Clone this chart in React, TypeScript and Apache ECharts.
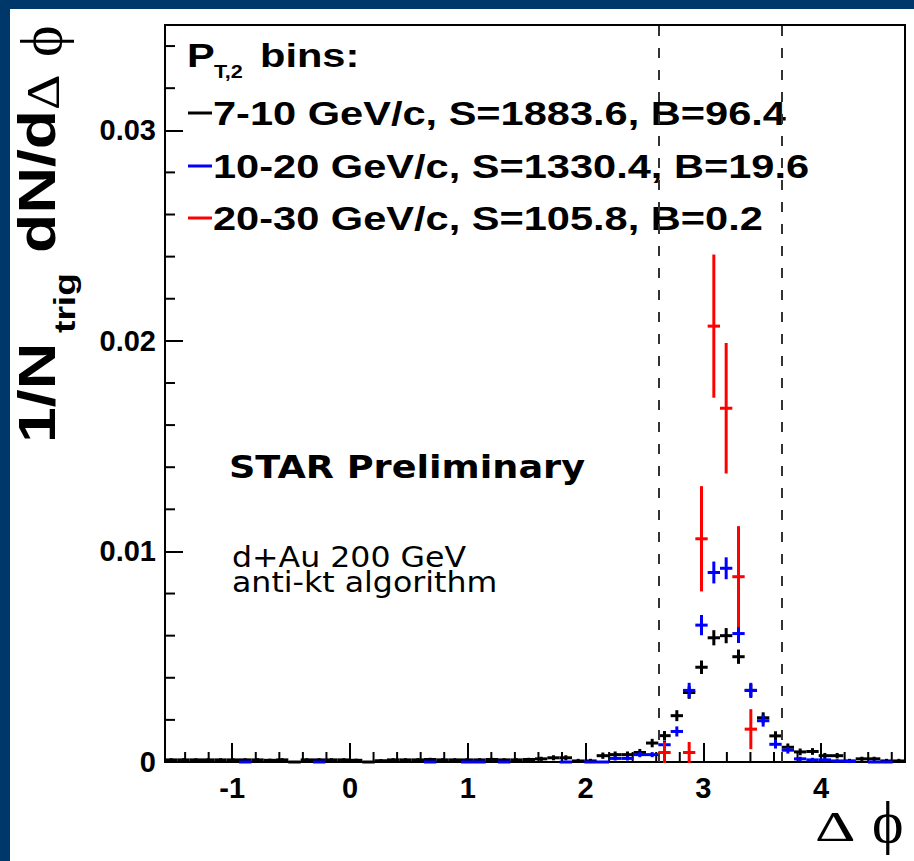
import React, { useEffect, useRef } from "react";
import * as echarts from "echarts";

// Binning of the histograms: 60 bins over [-pi/2, 3pi/2]
const N_BINS = 60;
const BIN_LOW = -Math.PI / 2;
const BIN_WIDTH = Math.PI / 30;
const X_MIN = -Math.PI / 2;
const X_MAX = (3 * Math.PI) / 2;
const Y_MAX = 0.035;

// Away-side window lines at pi -/+ pi/6
const WINDOW_LINES = [Math.PI - Math.PI / 6, Math.PI + Math.PI / 6];

// Minor tick positions
const X_MINOR_TICKS = [
  -1.4, -1.2, -0.8, -0.6, -0.4, -0.2, 0.2, 0.4, 0.6, 0.8, 1.2, 1.4, 1.6, 1.8,
  2.2, 2.4, 2.6, 2.8, 3.2, 3.4, 3.6, 3.8, 4.2, 4.4, 4.6,
];
const Y_MINOR_TICKS = [
  0.002, 0.004, 0.006, 0.008, 0.012, 0.014, 0.016, 0.018, 0.022, 0.024, 0.026,
  0.028, 0.032, 0.034,
];

// 7-10 GeV/c (black)
const BLACK_VALUES: (number | null)[] = [
  0.0001, 0.0001, 0.0001, 0.0001, 0.0001, 0.0001, 0.0001, 0.0001, 0.00008, 0.0001,
  0, 0.0001, 0.0001, 0.0001, 0.0001, 0.00008, 0, 0.00006, 0.0001, 0.0001,
  0.0001, 0.00012, 0.0001, 0.0001, 0.0001, 0.0001, 0.00012, 0.0001, 0.0001, 0.00012,
  0.00015, 0.0002, 0.0002, 0.00005, 0.00005, 0.0003, 0.00035, 0.00035, 0.00045, 0.0009,
  0.00125, 0.0022, 0.0033, 0.0045, 0.0059, 0.006, 0.005, 0.0034, 0.0021, 0.00124,
  0.0007, 0.00048, 0.0005, 0.0003, 0.0003, 0.00005, 0.00015, 0.00015, 0.00005, 0.00005,
];
const BLACK_ERRORS: number[] = [
  0.00008, 0.00008, 0.00008, 0.00008, 0.00008, 0.00008, 0.00008, 0.00008, 0.00008, 0.00008,
  0, 0.00008, 0.00008, 0.00008, 0.00008, 0.00008, 0, 0.00008, 0.00008, 0.00008,
  0.00008, 0.00008, 0.00008, 0.00008, 0.00008, 0.00008, 0.00008, 0.00008, 0.00008, 0.00008,
  0.0001, 0.00012, 0.00012, 0.0001, 0.0001, 0.00015, 0.00015, 0.00015, 0.00017, 0.0002,
  0.00022, 0.00026, 0.0003, 0.00032, 0.00036, 0.00036, 0.00034, 0.0003, 0.00026, 0.00022,
  0.00018, 0.00016, 0.00016, 0.00013, 0.00013, 0.0001, 0.0001, 0.0001, 0.0001, 0.0001,
];

// 10-20 GeV/c (blue)
const BLUE_VALUES: (number | null)[] = [
  null, null, null, null, null, null, 0, null, null, null,
  null, null, 0, null, null, null, null, null, null, null,
  null, 0, null, null, 0, 0, null, 0, null, null,
  null, null, 0, null, 0, 0, 0.00017, 0.00017, 0.00035, 0.00035,
  0.00082, 0.00145, 0.0034, 0.0065, 0.009, 0.0092, 0.0061, 0.0034, 0.00196, 0.00084,
  0.00056, 0.00015, 0.0001, 0.0001, 0.00005, 0.00003, null, 0, 0, null,
];
const BLUE_ERRORS: number[] = [
  0, 0, 0, 0, 0, 0, 0, 0, 0, 0,
  0, 0, 0, 0, 0, 0, 0, 0, 0, 0,
  0, 0, 0, 0, 0, 0, 0, 0, 0, 0,
  0, 0, 0, 0, 0, 0, 0.0001, 0.0001, 0.00012, 0.00012,
  0.0002, 0.00024, 0.00036, 0.00048, 0.00052, 0.00052, 0.00045, 0.00036, 0.00028, 0.0002,
  0.00016, 0.0001, 0.0001, 0.0001, 0.00008, 0.00005, 0, 0, 0, 0,
];

// 20-30 GeV/c (red)
const RED_VALUES: (number | null)[] = [
  null, null, null, null, null, null, null, null, null, null,
  null, null, null, null, null, null, null, null, null, null,
  null, null, null, null, null, null, null, null, null, null,
  null, null, null, null, null, null, null, null, null, null,
  0.00045, null, 0.00045, 0.0106, 0.0207, 0.0168, 0.0088, 0.00156, null, null,
  null, null, null, null, null, null, null, null, null, null,
];
const RED_ERRORS: number[] = [
  0, 0, 0, 0, 0, 0, 0, 0, 0, 0,
  0, 0, 0, 0, 0, 0, 0, 0, 0, 0,
  0, 0, 0, 0, 0, 0, 0, 0, 0, 0,
  0, 0, 0, 0, 0, 0, 0, 0, 0, 0,
  0.0005, 0, 0.0005, 0.0025, 0.0034, 0.0031, 0.0024, 0.00095, 0, 0,
  0, 0, 0, 0, 0, 0, 0, 0, 0, 0,
];

const SERIES_NAMES = ["7-10 GeV/c", "10-20 GeV/c", "20-30 GeV/c"];
const SERIES_COLORS = ["#000000", "#0000ff", "#ff0000"];
const LEGEND_LABELS = [
  "7-10 GeV/c, S=1883.6, B=96.4",
  "10-20 GeV/c, S=1330.4, B=19.6",
  "20-30 GeV/c, S=105.8, B=0.2",
];

const SANS = '"Liberation Sans", Arial, sans-serif';
const DEJAVU = '"DejaVu Sans", sans-serif';
const SERIF = '"Liberation Serif", "Times New Roman", serif';

function toData(values: (number | null)[], errors: number[]) {
  const out: number[][] = [];
  for (let i = 0; i < N_BINS; i++) {
    const v = values[i];
    if (v == null) continue;
    out.push([BIN_LOW + (i + 0.5) * BIN_WIDTH, v, errors[i]]);
  }
  return out;
}

// text helper: place text so that its alphabetic baseline is at (x, baseline)
function txt(
  text: string,
  x: number,
  baseline: number,
  size: number,
  family: string,
  weight: string,
  scaleX: number,
  fill = "#000"
) {
  return {
    type: "text",
    x,
    y: baseline - 0.346 * size,
    scaleX,
    silent: true,
    style: {
      text,
      x: 0,
      y: 0,
      fill,
      font: `${weight} ${size}px ${family}`,
      align: "left",
      verticalAlign: "middle",
      textAlign: "left",
      textVerticalAlign: "middle",
    },
  };
}

// rotated (bottom-to-top) text, baseline on screen column bx, starting at screen row sy
function vtxt(
  text: string,
  bx: number,
  sy: number,
  size: number,
  family: string,
  weight: string,
  scaleX: number
) {
  return {
    type: "group",
    x: bx,
    y: sy,
    rotation: Math.PI / 2,
    silent: true,
    children: [txt(text, 0, 0, size, family, weight, scaleX)],
  };
}

export default function App() {
  const ref = useRef<HTMLDivElement>(null);

  useEffect(() => {
    if (!ref.current) return;
    const chart = echarts.init(ref.current, undefined, { renderer: "svg" });

    const makeSeries = (idx: number, data: number[][], extra: any = {}) => ({
      type: "custom",
      name: SERIES_NAMES[idx],
      dimensions: ["x", "y", "err"],
      encode: { x: 0, y: 1 },
      data,
      z: 3 + idx,
      renderItem: (params: any, api: any) => {
        const x = api.value(0);
        const y = api.value(1);
        const e = api.value(2);
        const l = api.coord([x - BIN_WIDTH / 2, y]);
        const r = api.coord([x + BIN_WIDTH / 2, y]);
        const t = api.coord([x, y + e]);
        const b = api.coord([x, y - e]);
        const style = { stroke: SERIES_COLORS[idx], lineWidth: 3, fill: null };
        const children: any[] = [
          { type: "line", shape: { x1: l[0], y1: l[1], x2: r[0], y2: r[1] }, style },
        ];
        if (e > 0) {
          children.push({
            type: "line",
            shape: { x1: t[0], y1: t[1], x2: b[0], y2: b[1] },
            style,
          });
        }
        return { type: "group", children };
      },
      ...extra,
    });

    // minor ticks, placed through the axes' scales (third value: 0 = x tick, 1 = y tick)
    const tickSeries = {
      type: "custom",
      name: "minor ticks",
      dimensions: ["x", "y", "err"],
      encode: { x: 0, y: 1 },
      data: [
        ...X_MINOR_TICKS.map((v) => [v, 0, 0]),
        ...Y_MINOR_TICKS.map((v) => [X_MIN, v, 1]),
      ],
      z: 2,
      renderItem: (params: any, api: any) => {
        const p = api.coord([api.value(0), api.value(1)]);
        const k = api.value(2);
        const style = { stroke: "#000", lineWidth: 2, fill: null };
        const shape =
          k > 0.5
            ? { x1: p[0], y1: p[1], x2: p[0] + 10, y2: p[1] }
            : { x1: p[0], y1: p[1], x2: p[0], y2: p[1] - 10 };
        return { type: "group", children: [{ type: "line", shape, style }] };
      },
    };

    const axisFont = {
      fontFamily: SANS,
      fontWeight: "bold",
      fontSize: 29,
      color: "#000",
    };

    // legend graphics
    const legendX = 187;
    const entryBaselines = [125, 178, 230];
    const legendEls: any[] = [
      txt("P", legendX, 66.7, 33, SANS, "bold", 1.26),
      txt("T,2", 214, 78, 18, SANS, "bold", 1.2),
      txt("bins:", 260, 66.7, 33, SANS, "bold", 1.26),
    ];
    LEGEND_LABELS.forEach((lab, i) => {
      const bl = entryBaselines[i];
      legendEls.push({
        type: "line",
        silent: true,
        shape: { x1: 188, y1: bl - 12, x2: 212, y2: bl - 12 },
        style: { stroke: SERIES_COLORS[i], lineWidth: 3 },
      });
      legendEls.push(txt(lab, 213, bl, 33, SANS, "bold", 1.26));
    });

    const graphics: any[] = [
      // dark blue slide frame strips
      { type: "rect", silent: true, shape: { x: 0, y: 0, width: 10, height: 861 }, style: { fill: "#00376b" } },
      { type: "rect", silent: true, shape: { x: 0, y: 0, width: 914, height: 9 }, style: { fill: "#00376b" } },
      ...legendEls,
      txt("STAR Preliminary", 229, 478, 32, DEJAVU, "bold", 1.145),
      txt("d+Au 200 GeV", 232, 566.7, 29, DEJAVU, "normal", 1.09),
      txt("anti-kt algorithm", 232, 591.5, 29, DEJAVU, "normal", 1.09),
      // x axis title
      txt("Δ", 815, 841, 42, SERIF, "normal", 1.5),
      txt("ϕ", 872, 843, 60, SERIF, "normal", 1.0),
      // y axis title (rotated, reading bottom to top)
      vtxt("1/N", 55, 443, 52, SANS, "bold", 1.24),
      vtxt("trig", 75, 333, 30, SANS, "bold", 1.24),
      vtxt("dN/d", 55, 253, 52, SANS, "bold", 1.24),
      vtxt("Δ", 60, 110, 46, SERIF, "normal", 1.2),
      vtxt("ϕ", 62, 57, 60, SERIF, "normal", 1.0),
    ];

    const option: any = {
      animation: false,
      backgroundColor: "#ffffff",
      grid: {
        left: 165,
        right: 9,
        top: 25,
        bottom: 99,
        show: true,
        borderColor: "#000",
        borderWidth: 2,
        backgroundColor: "transparent",
        containLabel: false,
      },
      xAxis: {
        type: "value",
        min: X_MIN,
        max: X_MAX,
        splitNumber: 6,
        position: "bottom",
        axisLine: { show: true, onZero: false, lineStyle: { color: "#000", width: 2 } },
        axisTick: { show: true, inside: true, length: 19, lineStyle: { color: "#000", width: 2 } },
        axisLabel: {
          ...axisFont,
          margin: 11,
          formatter: (v: number) =>
            Math.abs(v - Math.round(v)) < 1e-6 ? String(Math.round(v)) : "",
        },
        splitLine: { show: false },
      },
      yAxis: {
        type: "value",
        min: 0,
        max: Y_MAX,
        interval: 0.01,
        position: "left",
        axisLine: { show: true, onZero: false, lineStyle: { color: "#000", width: 2 } },
        axisTick: { show: true, inside: true, length: 18, lineStyle: { color: "#000", width: 2 } },
        axisLabel: {
          ...axisFont,
          margin: 9,
          formatter: (v: number) => {
            if (Math.abs(v) < 1e-9) return "0";
            return Math.abs(v * 100 - Math.round(v * 100)) < 1e-6 ? v.toFixed(2) : "";
          },
        },
        splitLine: { show: false },
      },
      series: [
        tickSeries,
        makeSeries(0, toData(BLACK_VALUES, BLACK_ERRORS), {
          markLine: {
            silent: true,
            symbol: ["none", "none"],
            label: { show: false },
            lineStyle: { type: [10, 12], color: "#333", width: 2 },
            data: WINDOW_LINES.map((x) => ({ xAxis: x })),
          },
        }),
        makeSeries(1, toData(BLUE_VALUES, BLUE_ERRORS)),
        makeSeries(2, toData(RED_VALUES, RED_ERRORS)),
      ],
      graphic: { elements: graphics },
    };

    chart.setOption(option);
    return () => chart.dispose();
  }, []);

  return (
    <div
      ref={ref}
      style={{ position: "fixed", left: 0, top: 0, width: 914, height: 861 }}
    />
  );
}
